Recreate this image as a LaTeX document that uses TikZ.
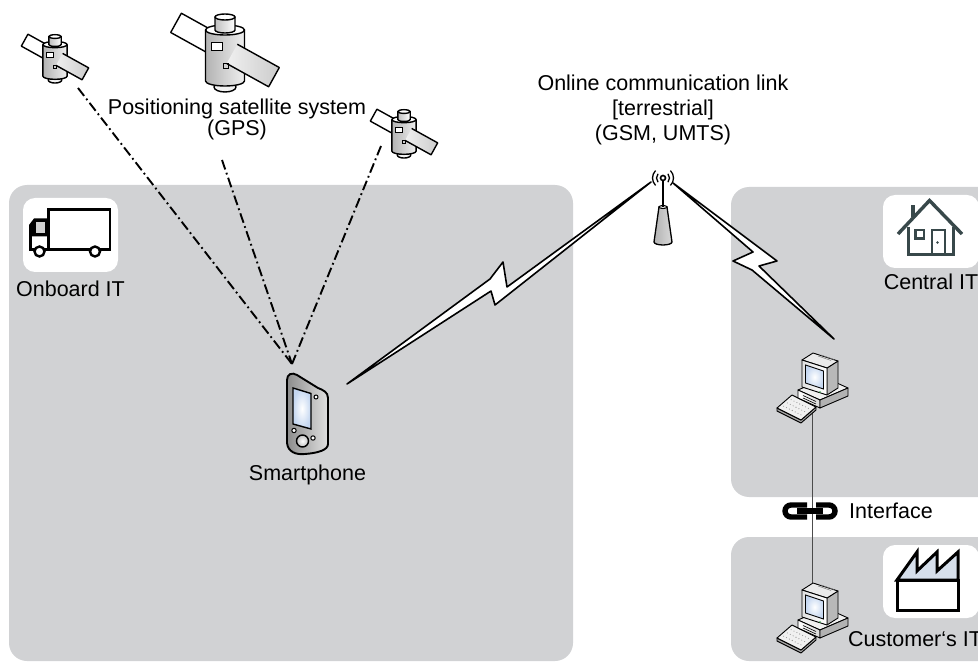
\documentclass[tikz,border=0pt]{standalone}
\usepackage{fontspec}
\setmainfont{Liberation Sans}
\usetikzlibrary{calc}

\definecolor{panelgray}{RGB}{209,210,212}
\definecolor{houseslate}{RGB}{56,72,74}
\definecolor{roofblue}{RGB}{214,223,235}
\definecolor{screenblue}{RGB}{196,214,240}
\definecolor{ledgreen}{RGB}{40,160,60}

\tikzset{
  zone/.style={fill=panelgray, rounded corners=18pt},
  iconbox/.style={fill=white, rounded corners=12pt},
  lbl/.style={font=\fontsize{21.5}{22}\selectfont, inner sep=0pt, text=black},
  gpsray/.style={line width=1.9pt, dash pattern=on 10pt off 3.5pt on 1.8pt off 3.5pt},
  bolt/.style={draw=black, fill=white, line width=1.6pt, line join=round},
  satline/.style={line width=1.4pt, line join=round},
  pcline/.style={draw=black, line width=0.9pt, line join=round},
  pics/satellite/.style={code={
    % solar panel, left arm (behind the body)
    \begin{scope}[rotate=-29]
      \draw[satline, fill=white] (-56,-11) rectangle (2,11);
    \end{scope}
    % dish below the body
    \draw[satline, fill=black!5] (0,37) ellipse [x radius=11, y radius=5];
    % cylinder body
    \draw[satline, left color=black!30, middle color=white, right color=black!6]
      (-19.5,-20) -- (-19.5,31) arc[start angle=180, end angle=0, x radius=19.5, y radius=5]
      -- (19.5,-20) -- cycle;
    \draw[satline, fill=white] (0,-20) ellipse [x radius=19.5, y radius=5];
    % knob on top
    \draw[satline, left color=black!25, right color=white]
      (-10,-20) -- (-10,-33) -- (10,-33) -- (10,-20)
      arc[start angle=0, end angle=180, x radius=10, y radius=3] -- cycle;
    \draw[satline, fill=white] (0,-33) ellipse [x radius=10, y radius=3];
    % solar panel, right arm (in front)
    \begin{scope}[rotate=-29]
      \draw[satline, left color=black!6, right color=black!20] (8,-11) -- (56,-11) -- (56,11) -- (8,11);
    \end{scope}
    % hatches
    \draw[line width=0.8pt, fill=white] (-14,-8) rectangle (-3,0);
    \draw[line width=0.8pt] (-2,13) rectangle (3,18);
  }},
  pics/computer/.style={code={
    % keyboard
    \draw[pcline, fill=black!35] (7,63) -- (7,66) -- (31,78) -- (46,65) -- (46,62) -- (31,75) -- cycle;
    \draw[pcline, fill=black!6] (7,63) -- (22,50) -- (46,62) -- (31,75) -- cycle;
    \foreach \u in {0.12,0.24,...,0.9} {
      \foreach \v in {0.25,0.5,0.75} {
        \fill[black!45] ($(22,50)+\u*(24,12)+\v*(-15,13)$) circle (0.55);
      }
    }
    % base unit
    \draw[pcline, fill=black!6] (28,45) -- (50,55) -- (78,43) -- (56,33) -- cycle;
    \draw[pcline, left color=white, right color=black!15] (28,45) -- (50,55) -- (50,63) -- (28,53) -- cycle;
    \draw[pcline, fill=black!30] (50,55) -- (78,43) -- (78,51) -- (50,63) -- cycle;
    \draw[line width=0.6pt] (33,50.5) -- (46,56.5) (33,53) -- (46,59);
    % monitor
    \draw[pcline, fill=black!28] (57,23) -- (68,16) -- (68,43) -- (57,50) -- cycle;
    \draw[pcline, fill=black!8] (32,15) -- (43,8) -- (68,16) -- (57,23) -- cycle;
    \draw[line width=0.5pt, black!50] (48,11) -- (61,15.5) (51,10) -- (64,14.5);
    \draw[pcline, left color=black!12, right color=white] (32,15) -- (57,23) -- (57,50) -- (32,42) -- cycle;
    \draw[line width=0.8pt, inner color=white, outer color=screenblue] (35.5,20) -- (53.5,26) -- (53.5,44) -- (35.5,38) -- cycle;
    \fill[ledgreen] (50,47) circle (0.9);
  }}
}

\begin{document}
\begin{tikzpicture}[x=1pt, y=-1pt]
\clip (0,0) rectangle (978,663);

% --- domains -------------------------------------------------------------
\fill[zone] (9,185) rectangle (573,661);
\fill[zone] (731,187) rectangle (1000,497);
\fill[zone] (731,537) rectangle (1000,661);

% --- connection points -----------------------------------------------------
\coordinate (rayL) at (78,88);
\coordinate (rayM) at (222,160);
\coordinate (rayR) at (381,146);
\coordinate (phoneTop) at (292,364);
\coordinate (phoneLink) at (347,384);
\coordinate (antL) at (651,182);
\coordinate (antR) at (673,183);
\coordinate (pcLink) at (834,339);
\coordinate (pcTopFoot) at (812,412);
\coordinate (pcBotHead) at (812,592);

% --- GPS signals -------------------------------------------------------------
\draw[gpsray] (rayL) -- (phoneTop);
\draw[gpsray] (rayM) -- (phoneTop);
\draw[gpsray] (rayR) -- (phoneTop);

% --- radio links -----------------------------------------------------------
\draw[bolt] (phoneLink) -- (490,279) -- (503,262) -- (507,287) -- (antL)
  -- (495,305) -- (491,291) -- cycle;
\draw[bolt] (antR) -- (777,261) -- (759,266) -- (pcLink) -- (752,270)
  -- (733,261) -- (753,252) -- cycle;

% --- wired interface ---------------------------------------------------------
\draw[line width=1pt, black!70] (pcTopFoot) -- (pcBotHead);

% --- satellites --------------------------------------------------------------
\pic at (55,57) [scale=0.62] {satellite};
\pic at (225,50) {satellite};
\pic at (404,132) [scale=0.62] {satellite};

% --- smartphone ----------------------------------------------------------------
\draw[line width=1.9pt, left color=black!45, middle color=white, right color=black!12]
  (287,380) -- (287,443) .. controls (288,452) and (296,455) .. (305,454)
  .. controls (318,453) and (328,450) .. (328,444) -- (328,398)
  .. controls (328,392) and (323,390) .. (318,388) -- (297,375)
  .. controls (292,372) and (287,374) .. (287,380) -- cycle;
\draw[line width=1.4pt, inner color=white, outer color=screenblue]
  (293,388) -- (311,393.5) -- (311,429) -- (293,424) -- cycle;
\draw[line width=1pt, fill=white] (316,397) circle (2);
\draw[line width=1pt, fill=white] (294,430.5) circle (2.2);
\draw[line width=1pt, fill=white] (313,438) circle (2.2);
\draw[line width=1.4pt, inner color=white, outer color=black!25] (302.5,441) circle (6);

% --- antenna -------------------------------------------------------------------
\draw[line width=1.3pt, left color=black!30, middle color=white, right color=black!15]
  (659,207) -- (654,242) arc[start angle=180, end angle=0, x radius=9, y radius=3]
  -- (667,207) -- cycle;
\draw[line width=1.1pt, fill=white] (663,207) ellipse [x radius=4, y radius=1.5];
\draw[line width=1.6pt] (663,181) -- (663,207);
\draw[line width=1.6pt, fill=white] (663,178) circle (2.5);
\draw[line width=1.3pt] (663,178) ++(140:6.5) arc[start angle=140, end angle=220, radius=6.5];
\draw[line width=1.3pt] (663,178) ++(135:10.5) arc[start angle=135, end angle=225, radius=10.5];
\draw[line width=1.3pt] (663,178) ++(-40:6.5) arc[start angle=-40, end angle=40, radius=6.5];
\draw[line width=1.3pt] (663,178) ++(-45:10.5) arc[start angle=-45, end angle=45, radius=10.5];

% --- computers -----------------------------------------------------------------
\pic at (770,345) {computer};
\pic at (770,575) {computer};

% --- interface chain -----------------------------------------------------------
\draw[line width=5.4pt] (807,505) -- (791,505)
  arc[start angle=270, end angle=90, radius=6] -- (807,517);
\draw[line width=5.4pt] (816,505) -- (829,505)
  arc[start angle=270, end angle=450, radius=6] -- (816,517);
\draw[line width=5.4pt] (797,511) -- (823,511);

% --- truck icon ----------------------------------------------------------------
\fill[iconbox] (23,198) rectangle (118,272);
\draw[line width=2.6pt, fill=white] (48.5,209.5) rectangle (110,249.5);
\fill[black] (29,225) -- (34,218.5) -- (49.5,218.5) -- (49.5,236.5) -- (29,236.5) -- cycle;
\fill[black!18] (35.5,222.5) rectangle (45,233);
\draw[line width=2.6pt] (30.3,236) -- (30.3,249.5) -- (110,249.5);
\draw[line width=2.4pt, fill=white] (39.5,251.5) circle (5);
\draw[line width=2.4pt, fill=white] (95,251.5) circle (5);

% --- house icon ----------------------------------------------------------------
\fill[iconbox] (883,195) rectangle (979,268);
\begin{scope}[houseslate]
  \draw[line width=4.4pt] (913,217.5) -- (913,205);
  \draw[line width=3.4pt, line join=miter] (898,234) -- (929.5,200.5) -- (962,234);
  \draw[line width=3.4pt] (908.5,227) -- (908.5,254.5) -- (953.5,254.5) -- (953.5,227);
  \draw[line width=2.4pt] (915.5,230) rectangle (924,238.5);
  \draw[line width=2.4pt] (932,254.5) -- (932,230) -- (945,230) -- (945,254.5);
  \fill (937.5,242.5) circle (1.4);
\end{scope}

% --- factory icon --------------------------------------------------------------
\fill[iconbox] (883,545) rectangle (979,618);
\draw[line width=3pt, fill=roofblue, line join=miter]
  (897,580) -- (917,552) -- (917,571) -- (937,552) -- (937,571) -- (958,552) -- (958,580) -- cycle;
\draw[line width=3pt, fill=white] (897,580) rectangle (958,610);

% --- labels --------------------------------------------------------------------
\node[lbl, anchor=base] (gpsLabel) at (237,114.5) {Positioning satellite system};
\node[lbl, anchor=base] (gpsLabelSub) at (237,136) {(GPS)};
\node[lbl, anchor=base] (linkLabel) at (663,90.5) {Online communication link};
\node[lbl, anchor=base] (linkLabelKind) at (663,115.5) {[terrestrial]};
\node[lbl, anchor=base] (linkLabelNet) at (663,141) {(GSM, UMTS)};
\node[lbl, anchor=base] (onboardLabel) at (70.5,297) {Onboard IT};
\node[lbl, anchor=base] (phoneLabel) at (307.5,480) {Smartphone};
\node[lbl, anchor=base] (centralLabel) at (931,289.5) {Central IT};
\node[lbl, anchor=base west] (ifaceLabel) at (849,518.5) {Interface};
\node[lbl, anchor=base west] (customerLabel) at (848,646.7) {Customer‘s IT};
\end{tikzpicture}
\end{document}
